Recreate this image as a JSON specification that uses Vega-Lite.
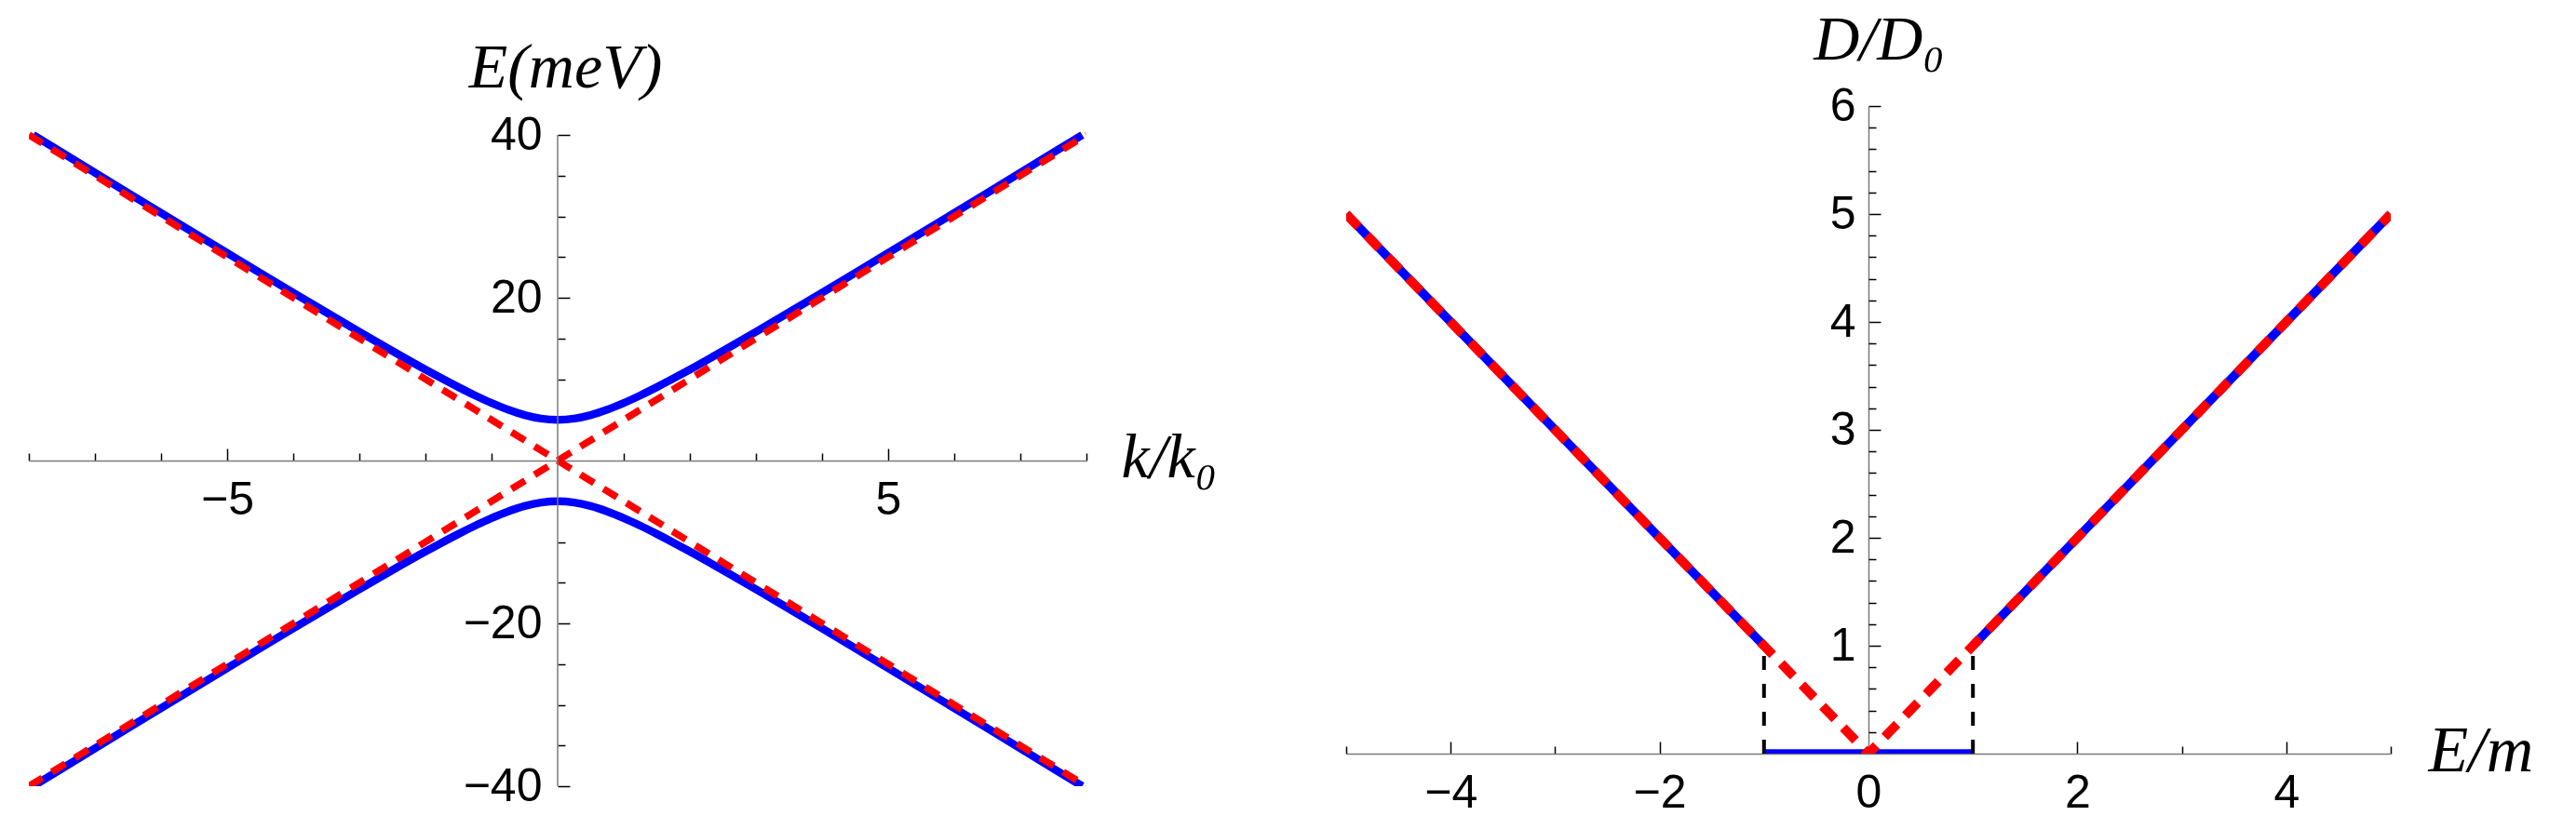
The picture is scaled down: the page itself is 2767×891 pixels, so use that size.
{
  "$schema": "https://vega.github.io/schema/vega-lite/v6.json",
  "autosize": {"type": "pad"},
  "padding": {"left": 30, "top": 9, "right": 10, "bottom": 10},
  "background": "white",
  "bounds": "flush",
  "spacing": 279,
  "config": {
    "view": {"stroke": null},
    "axis": {
      "grid": false,
      "labelFont": "Liberation Sans",
      "labelFontSize": 50,
      "labelColor": "black",
      "tickColor": "black",
      "tickWidth": 1.5,
      "domainColor": "#7a7a7a",
      "domainWidth": 1.5,
      "titleFont": "Liberation Serif",
      "titleFontStyle": "italic",
      "titleFontWeight": "normal",
      "titleColor": "black",
      "labelFlush": false,
      "labelOverlap": false,
      "format": "d",
      "zindex": 1
    }
  },
  "datasets": {
    "leftBlue": [
      {"k": -7.937, "E": 40, "s": "u"}, {"k": -7.5, "E": 37.832, "s": "u"}, {"k": -7, "E": 35.355, "s": "u"},
      {"k": -6.5, "E": 32.882, "s": "u"}, {"k": -6, "E": 30.414, "s": "u"}, {"k": -5.5, "E": 27.951, "s": "u"},
      {"k": -5, "E": 25.495, "s": "u"}, {"k": -4.5, "E": 23.049, "s": "u"}, {"k": -4, "E": 20.616, "s": "u"},
      {"k": -3.5, "E": 18.2, "s": "u"}, {"k": -3, "E": 15.811, "s": "u"}, {"k": -2.5, "E": 13.463, "s": "u"},
      {"k": -2, "E": 11.18, "s": "u"}, {"k": -1.75, "E": 10.078, "s": "u"}, {"k": -1.5, "E": 9.014, "s": "u"},
      {"k": -1.25, "E": 8.004, "s": "u"}, {"k": -1, "E": 7.071, "s": "u"}, {"k": -0.75, "E": 6.25, "s": "u"},
      {"k": -0.5, "E": 5.59, "s": "u"}, {"k": -0.25, "E": 5.154, "s": "u"}, {"k": 0, "E": 5, "s": "u"},
      {"k": 0.25, "E": 5.154, "s": "u"}, {"k": 0.5, "E": 5.59, "s": "u"}, {"k": 0.75, "E": 6.25, "s": "u"},
      {"k": 1, "E": 7.071, "s": "u"}, {"k": 1.25, "E": 8.004, "s": "u"}, {"k": 1.5, "E": 9.014, "s": "u"},
      {"k": 1.75, "E": 10.078, "s": "u"}, {"k": 2, "E": 11.18, "s": "u"}, {"k": 2.5, "E": 13.463, "s": "u"},
      {"k": 3, "E": 15.811, "s": "u"}, {"k": 3.5, "E": 18.2, "s": "u"}, {"k": 4, "E": 20.616, "s": "u"},
      {"k": 4.5, "E": 23.049, "s": "u"}, {"k": 5, "E": 25.495, "s": "u"}, {"k": 5.5, "E": 27.951, "s": "u"},
      {"k": 6, "E": 30.414, "s": "u"}, {"k": 6.5, "E": 32.882, "s": "u"}, {"k": 7, "E": 35.355, "s": "u"},
      {"k": 7.5, "E": 37.832, "s": "u"}, {"k": 7.937, "E": 40, "s": "u"},
      {"k": -7.937, "E": -40, "s": "l"}, {"k": -7.5, "E": -37.832, "s": "l"}, {"k": -7, "E": -35.355, "s": "l"},
      {"k": -6.5, "E": -32.882, "s": "l"}, {"k": -6, "E": -30.414, "s": "l"}, {"k": -5.5, "E": -27.951, "s": "l"},
      {"k": -5, "E": -25.495, "s": "l"}, {"k": -4.5, "E": -23.049, "s": "l"}, {"k": -4, "E": -20.616, "s": "l"},
      {"k": -3.5, "E": -18.2, "s": "l"}, {"k": -3, "E": -15.811, "s": "l"}, {"k": -2.5, "E": -13.463, "s": "l"},
      {"k": -2, "E": -11.18, "s": "l"}, {"k": -1.75, "E": -10.078, "s": "l"}, {"k": -1.5, "E": -9.014, "s": "l"},
      {"k": -1.25, "E": -8.004, "s": "l"}, {"k": -1, "E": -7.071, "s": "l"}, {"k": -0.75, "E": -6.25, "s": "l"},
      {"k": -0.5, "E": -5.59, "s": "l"}, {"k": -0.25, "E": -5.154, "s": "l"}, {"k": 0, "E": -5, "s": "l"},
      {"k": 0.25, "E": -5.154, "s": "l"}, {"k": 0.5, "E": -5.59, "s": "l"}, {"k": 0.75, "E": -6.25, "s": "l"},
      {"k": 1, "E": -7.071, "s": "l"}, {"k": 1.25, "E": -8.004, "s": "l"}, {"k": 1.5, "E": -9.014, "s": "l"},
      {"k": 1.75, "E": -10.078, "s": "l"}, {"k": 2, "E": -11.18, "s": "l"}, {"k": 2.5, "E": -13.463, "s": "l"},
      {"k": 3, "E": -15.811, "s": "l"}, {"k": 3.5, "E": -18.2, "s": "l"}, {"k": 4, "E": -20.616, "s": "l"},
      {"k": 4.5, "E": -23.049, "s": "l"}, {"k": 5, "E": -25.495, "s": "l"}, {"k": 5.5, "E": -27.951, "s": "l"},
      {"k": 6, "E": -30.414, "s": "l"}, {"k": 6.5, "E": -32.882, "s": "l"}, {"k": 7, "E": -35.355, "s": "l"},
      {"k": 7.5, "E": -37.832, "s": "l"}, {"k": 7.937, "E": -40, "s": "l"}
    ],
    "leftRed": [
      {"k": -8, "E": -40, "s": "a"}, {"k": 8, "E": 40, "s": "a"},
      {"k": -8, "E": 40, "s": "b"}, {"k": 8, "E": -40, "s": "b"}
    ],
    "leftAxisLine": [
      {"k": 0, "E": -40, "E2": 40}
    ],
    "rightBlue": [
      {"x": -5, "D": 5, "s": "l"}, {"x": -1, "D": 1, "s": "l"},
      {"x": -1, "D": 0, "s": "m"}, {"x": 1, "D": 0, "s": "m"},
      {"x": 1, "D": 1, "s": "r"}, {"x": 5, "D": 5, "s": "r"}
    ],
    "rightRed": [
      {"x": -5, "D": 5, "s": "v"}, {"x": 0, "D": 0, "s": "v"}, {"x": 5, "D": 5, "s": "v"}
    ],
    "rightBlack": [
      {"x": -1, "D": 0, "s": "a"}, {"x": -1, "D": 1, "s": "a"},
      {"x": 1, "D": 0, "s": "b"}, {"x": 1, "D": 1, "s": "b"}
    ]
  },
  "hconcat": [
    {
      "width": 1136,
      "height": 731,
      "layer": [
        {
          "data": {"name": "leftBlue"},
          "mark": {"type": "line", "color": "#0000ff", "strokeWidth": 8.5, "interpolate": "monotone", "clip": true},
          "encoding": {
            "x": {
              "field": "k", "type": "quantitative",
              "scale": {"domain": [-8, 8], "nice": false, "zero": false},
              "axis": {
                "title": "k/k₀",
                "offset": -350,
                "labelOverlap": false,
                "values": [-8, -7, -6, -5, -4, -3, -2, -1, 1, 2, 3, 4, 5, 6, 7, 8],
                "tickSize": {"condition": {"test": "abs(datum.value) === 5", "value": -13}, "value": -8},
                "labelExpr": "abs(datum.value) === 5 ? datum.label : ''",
                "labelPadding": 30,
                "titleX": 1173, "titleY": 17, "titleAlign": "left", "titleBaseline": "alphabetic",
                "titleAngle": 0, "titleFontSize": 68
              }
            },
            "y": {
              "field": "E", "type": "quantitative",
              "scale": {"domain": [-40, 43.543], "nice": false, "zero": false},
              "axis": {
                "title": "E(meV)",
                "offset": -568,
                "domain": false,
                "labelOverlap": false,
                "values": [-40, -35, -30, -25, -20, -15, -10, -5, 5, 10, 15, 20, 25, 30, 35, 40],
                "tickSize": {"condition": {"test": "abs(datum.value) % 20 === 0", "value": -13}, "value": -8},
                "labelExpr": "abs(datum.value) % 20 === 0 ? datum.label : ''",
                "labelPadding": 30,
                "titleX": 8, "titleY": -21, "titleAlign": "center", "titleBaseline": "alphabetic",
                "titleAngle": 0, "titleFontSize": 68
              }
            },
            "detail": {"field": "s"}
          }
        },
        {
          "data": {"name": "leftRed"},
          "mark": {"type": "line", "color": "#ff0000", "strokeWidth": 7.5, "strokeDash": [17, 12], "clip": true},
          "encoding": {
            "x": {"field": "k", "type": "quantitative"},
            "y": {"field": "E", "type": "quantitative"},
            "detail": {"field": "s"}
          }
        },
        {
          "data": {"name": "leftAxisLine"},
          "mark": {"type": "rule", "color": "#7a7a7a", "strokeWidth": 1.5},
          "encoding": {
            "x": {"field": "k", "type": "quantitative"},
            "y": {"field": "E", "type": "quantitative"},
            "y2": {"field": "E2"}
          }
        }
      ]
    },
    {
      "width": 1122,
      "height": 696,
      "resolve": {"scale": {"y": "shared"}, "axis": {"y": "independent"}},
      "layer": [
        {
          "data": {"name": "rightBlue"},
          "mark": {"type": "line", "color": "#0000ff", "strokeWidth": 9.5, "clip": true},
          "encoding": {
            "x": {
              "field": "x", "type": "quantitative",
              "scale": {"domain": [-5, 5], "nice": false, "zero": false},
              "axis": {
                "title": "E/m",
                "offset": 0,
                "labelOverlap": false,
                "values": [-5, -4, -3, -2, -1, 0, 1, 2, 3, 4, 5],
                "tickSize": {"condition": {"test": "datum.value % 2 === 0", "value": -13}, "value": -8},
                "tickOpacity": {"condition": {"test": "datum.value === 0", "value": 0}, "value": 1},
                "labelExpr": "datum.value % 2 === 0 ? datum.label : ''",
                "labelPadding": 30,
                "titleX": 1162, "titleY": 18, "titleAlign": "left", "titleBaseline": "alphabetic",
                "titleAngle": 0, "titleFontSize": 70
              }
            },
            "y": {
              "field": "D", "type": "quantitative",
              "scale": {"domain": [0, 6], "nice": false, "zero": false},
              "axis": {
                "title": "D/D₀",
                "orient": "left",
                "offset": -561,
                "labelOverlap": false,
                "values": [1, 2, 3, 4, 5, 6],
                "tickSize": -13,
                "labelPadding": 27,
                "titleX": 11, "titleY": -51, "titleAlign": "center", "titleBaseline": "alphabetic",
                "titleAngle": 0, "titleFontSize": 68
              }
            },
            "detail": {"field": "s"}
          }
        },
        {
          "data": {"name": "rightBlack"},
          "mark": {"type": "line", "color": "black", "strokeWidth": 4, "strokeDash": [15, 15], "clip": true},
          "encoding": {
            "x": {"field": "x", "type": "quantitative"},
            "y": {
              "field": "D", "type": "quantitative",
              "axis": {
                "title": null,
                "orient": "left",
                "offset": -561,
                "domain": false,
                "labels": false,
                "values": [0.2, 0.4, 0.6, 0.8, 1.2, 1.4, 1.6, 1.8, 2.2, 2.4, 2.6, 2.8, 3.2, 3.4, 3.6, 3.8, 4.2, 4.4, 4.6, 4.8, 5.2, 5.4, 5.6, 5.8],
                "tickSize": -8
              }
            },
            "detail": {"field": "s"}
          }
        },
        {
          "data": {"name": "rightRed"},
          "mark": {"type": "line", "color": "#ff0000", "strokeWidth": 10, "strokeDash": [19, 13], "clip": true},
          "encoding": {
            "x": {"field": "x", "type": "quantitative"},
            "y": {"field": "D", "type": "quantitative", "axis": null},
            "detail": {"field": "s"}
          }
        }
      ]
    }
  ]
}
